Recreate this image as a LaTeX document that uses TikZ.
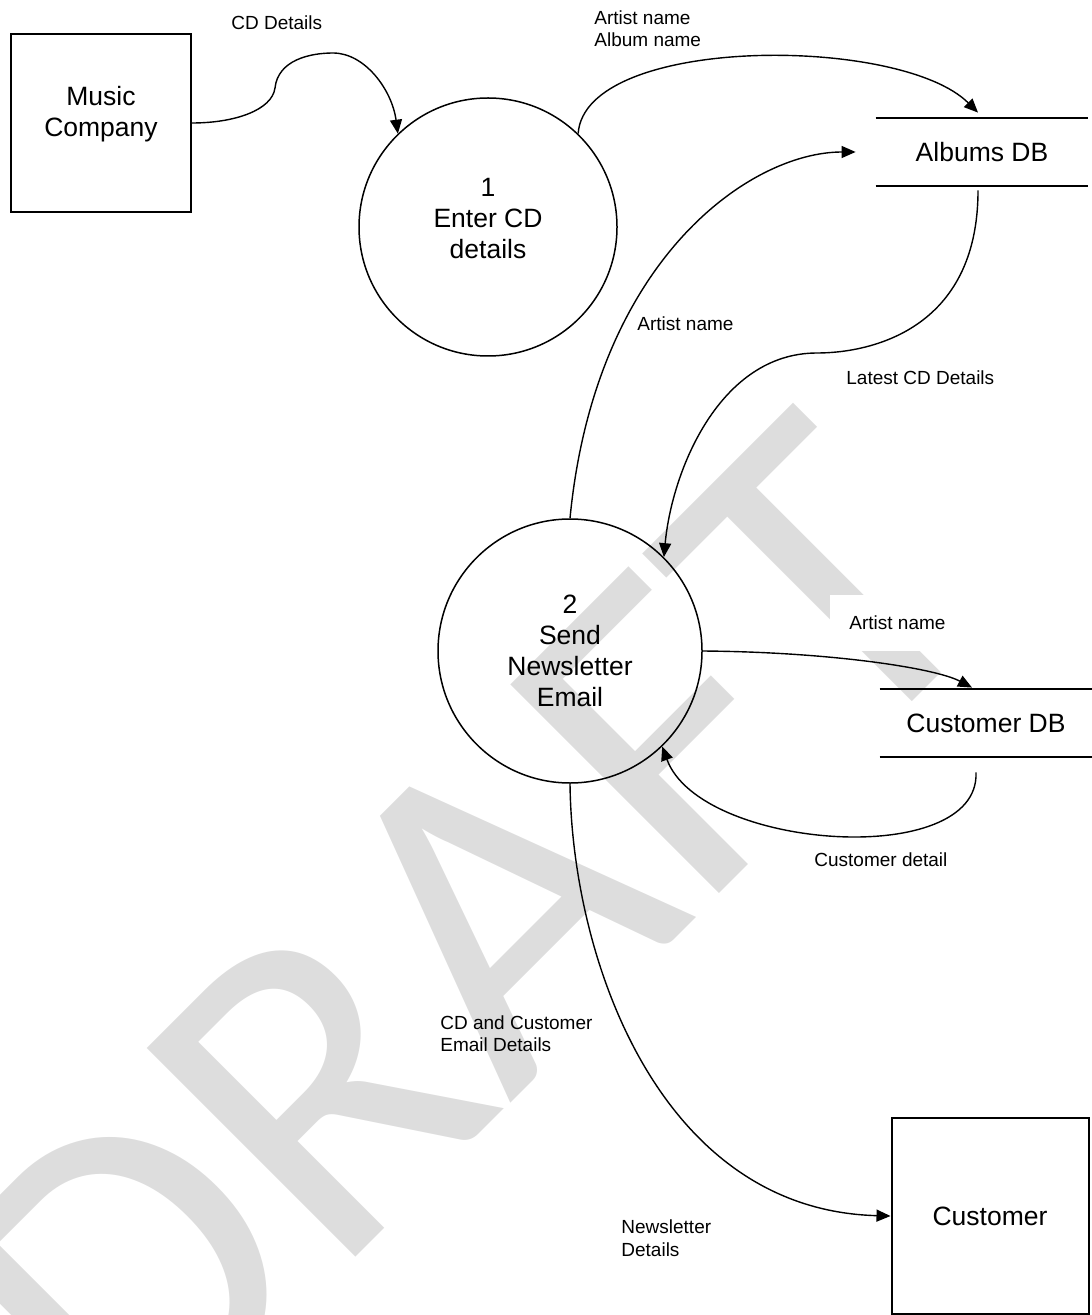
\documentclass[tikz,border=0pt]{standalone}
\usepackage{fontspec}
\setmainfont{Liberation Sans}
\newfontfamily\wmfont{Carlito}
\usetikzlibrary{arrows.meta}
\definecolor{WatermarkGray}{HTML}{DDDDDD}

\begin{document}
\begin{tikzpicture}[x=0.5pt, y=-0.5pt,
    entity/.style={draw, line width=1pt, inner sep=0pt, align=center, font=\fontsize{13.25}{15.5}\selectfont},
    proc/.style={draw, circle, line width=0.75pt, minimum size=129pt, inner sep=0pt, align=center, font=\fontsize{13.25}{15.5}\selectfont},
    store/.style={minimum width=106pt, minimum height=34pt, inner sep=0pt, font=\fontsize{13.25}{15.5}\selectfont},
    flowlbl/.style={anchor=west, inner sep=0pt, align=left, font=\fontsize{9.5}{11.25}\selectfont},
    flow/.style={-{Triangle[length=7pt,width=6pt]}, line width=0.7pt},
    wmark/.style={text=WatermarkGray, rotate=45, inner sep=0pt, font=\wmfont\fontsize{230}{230}\selectfont}
  ]
    \useasboundingbox (0,0) rectangle (1091,1315);

    % Watermark
    \node[wmark] (wm) at (465,940) {DRAFT};

    % External entities
    \node[entity, minimum width=90pt, minimum height=89pt, text depth=11.8pt] (mc) at (101,123) {Music\\Company};
    \node[entity, minimum width=98.5pt, minimum height=98pt] (cust) at (990,1216) {Customer};

    % Processes
    \node[proc, text depth=9pt] (p1) at (488,227) {1\\Enter CD\\details};
    \node[proc, minimum size=132pt] (p2) at (570,651) {2\\Send\\Newsletter\\Email};

    % Data stores
    \node[store] (adb) at (982,152) {Albums DB};
    \node[store] (cdb) at (986,723) {Customer DB};
    \draw[line width=1pt] (adb.north west) -- (adb.north east) (adb.south west) -- (adb.south east);
    \draw[line width=1pt] (cdb.north west) -- (cdb.north east) (cdb.south west) -- (cdb.south east);

    % Flow labels
    \node[flowlbl] (l1) at (231,23) {CD Details};
    \node[flowlbl] (l2) at (594,28.5) {Artist name\\Album name};
    \node[flowlbl] (l3) at (637,324) {Artist name};
    \node[flowlbl] (l4) at (846,378) {Latest CD Details};
    \node[flowlbl, fill=white, inner xsep=9.5pt, inner ysep=10.5pt] (l5) at (830,623) {Artist name};
    \node[flowlbl] (l6) at (814,860) {Customer detail};
    \node[flowlbl] (l7) at (440,1033.5) {CD and Customer\\Email Details};
    \node[flowlbl] (l8) at (621,1238) {Newsletter\\Details};

    % Flows
    \draw[flow] (mc.east) .. controls (235,123) and (272,110) .. (275,88)
      .. controls (278,60) and (310,53) .. (333,53)
      .. controls (365,53) and (392,90) .. (p1.134);
    \draw[flow] (p1.46) .. controls (585,35) and (900,35) .. ([shift={(-4,-5)}]adb.north);
    \draw[flow] (p2.north) .. controls (595,260) and (750,152) .. ([shift={(-20,0)}]adb.west);
    \draw[flow] ([shift={(-4,4)}]adb.south) .. controls (978,330) and (870,353) .. (817,353)
      .. controls (720,353) and (672,470) .. (p2.45);
    \draw[flow] (p2.east) .. controls (830,652) and (935,668) .. ([shift={(-14,-1)}]cdb.north);
    \draw[flow] ([shift={(-10,15)}]cdb.south) .. controls (980,870) and (700,850) .. (p2.-46);
    \draw[flow] (p2.south) .. controls (572,960) and (660,1210) .. (cust.west);

  \end{tikzpicture}
\end{document}
